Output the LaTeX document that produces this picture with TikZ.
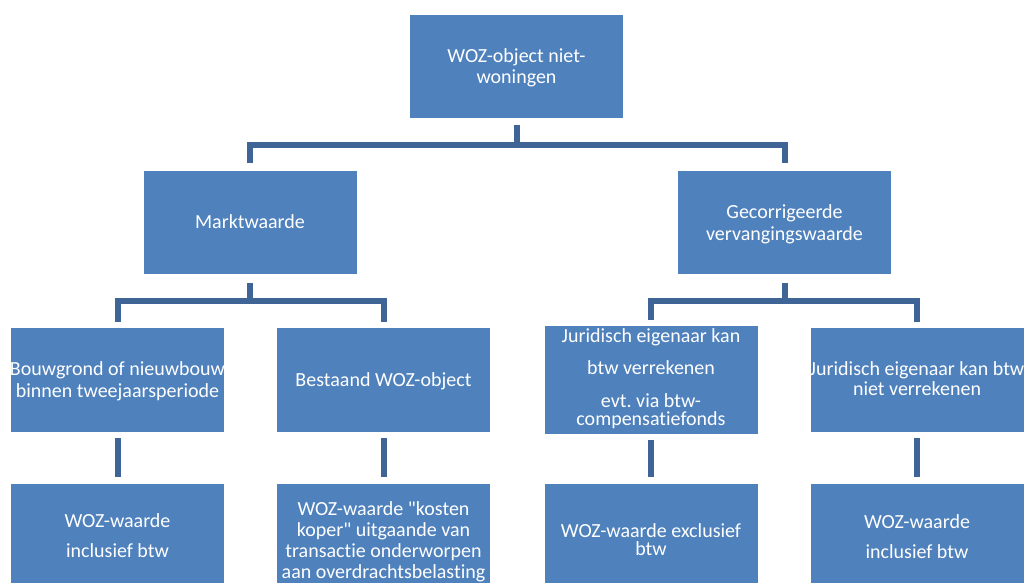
\documentclass[tikz,border=0pt]{standalone}
\usepackage{fontspec}
\setmainfont{Carlito}[Ligatures={TeXOff,CommonOff}]
\frenchspacing
\definecolor{boxblue}{RGB}{79,129,189}
\definecolor{connblue}{RGB}{62,101,150}
% #1 first-line height strut, #2 last-line depth strut, #3 lines
\newcommand{\bt}[3]{\rule{0pt}{#1pt}#3\rule[-#2pt]{0pt}{#2pt}}
\newcommand{\cl}[1]{\makebox[0pt][c]{#1}}
\tikzset{
  box/.style={rectangle, fill=boxblue, inner sep=0pt, minimum width=213pt,
    text=white, align=center, font=\fontsize{20}{20}\selectfont},
  boxA/.style={box, minimum height=103pt},
  boxB/.style={box, minimum height=104pt},
  conn/.style={draw=connblue, line width=6pt, line join=miter},
  elbowA/.style={conn, shorten <=7pt, shorten >=8pt},
  elbowB/.style={conn, shorten <=9pt, shorten >=6pt},
  stem/.style={conn, shorten <=6pt, shorten >=7pt}
}
\begin{document}
\begin{tikzpicture}[x=1pt,y=-1pt]
\useasboundingbox (0,0) rectangle (1026,582);
\clip (0,0) rectangle (1026,582);
\fill[white] (0,0) rectangle (1026,582);

% level 1
\node[boxA] (top) at (516.5,66.5) {\bt{18}{6}{\cl{WOZ-object niet-}\\[1pt]\cl{woningen}}};

% level 2
\node[boxA] (mw) at (250,222.5) {\bt{17}{6}{\cl{Marktwaarde}}};
\node[boxA] (gv) at (784.5,222.5) {\bt{19}{6}{\cl{Gecorrigeerde}\\[2pt]\cl{vervangingswaarde}}};

% level 3
\node[boxB] (bg) at (117.5,380) {\bt{18}{6}{\cl{Bouwgrond of nieuwbouw}\\[2pt]\cl{binnen tweejaarsperiode}}};
\node[boxB] (bw) at (383.5,380) {\bt{18}{6}{\cl{Bestaand WOZ-object}}};
\node[boxB] (j1) at (651,380) {\bt{16}{9}{\cl{Juridisch eigenaar kan}\\[12pt]\cl{btw verrekenen}\\[13pt]\cl{evt. via btw-}\\[-2pt]\cl{compensatiefonds}}};
\node[boxB] (j2) at (917,380) {\bt{16}{6}{\cl{Juridisch eigenaar kan btw}\\\cl{niet verrekenen}}};

% level 4
\node[boxB] (w1) at (117.5,536) {\bt{18}{6}{\cl{WOZ-waarde}\\[10pt]\cl{inclusief btw}}};
\node[boxB] (w2) at (383.5,536) {\bt{27}{6}{\cl{WOZ-waarde "kosten}\\[1pt]\cl{koper" uitgaande van}\\[1pt]\cl{transactie onderworpen}\\[1pt]\cl{aan overdrachtsbelasting}}};
\node[boxB] (w3) at (651,536) {\bt{26}{6}{\cl{WOZ-waarde exclusief}\\[-2pt]\cl{btw}}};
\node[boxB] (w4) at (917,536) {\bt{20}{6}{\cl{WOZ-waarde}\\[10pt]\cl{inclusief btw}}};

% connectors
\draw[elbowA] (top.south) -- ++(0,27) -| (mw.north);
\draw[elbowA] (top.south) -- ++(0,27) -| (gv.north);
\draw[elbowB] (mw.south) -- ++(0,27) -| (bg.north);
\draw[elbowB] (mw.south) -- ++(0,27) -| (bw.north);
\draw[elbowB] (gv.south) -- ++(0,27) -| (j1.north);
\draw[elbowB] (gv.south) -- ++(0,27) -| (j2.north);
\draw[stem] (bg.south) -- (w1.north);
\draw[stem] (bw.south) -- (w2.north);
\draw[stem] (j1.south) -- (w3.north);
\draw[stem] (j2.south) -- (w4.north);
\end{tikzpicture}
\end{document}
